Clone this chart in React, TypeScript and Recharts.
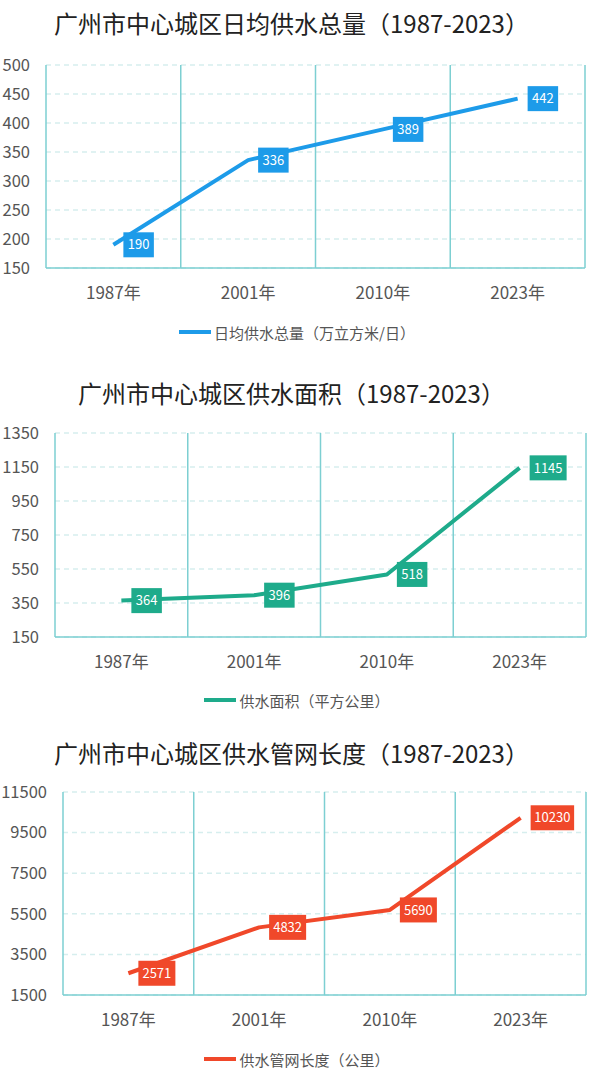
import React from 'react';
import { LineChart, Line, XAxis, YAxis, CartesianGrid, LabelList } from 'recharts';

const years = ['1987年', '2001年', '2010年', '2023年'];
const dailySupply = [190, 336, 389, 442];
const supplyArea = [364, 396, 518, 1145];
const pipeLength = [2571, 4832, 5690, 10230];

const dailyTicks = [150, 200, 250, 300, 350, 400, 450, 500];
const areaTicks = [150, 350, 550, 750, 950, 1150, 1350];
const pipeTicks = [1500, 3500, 5500, 7500, 9500, 11500];

const CHART_W = 591;
const CHART_H = 330;
const X_AXIS_H = 30;
const FONT = '"Noto Sans CJK SC", "Noto Sans", sans-serif';
const GRID_LINE = '#7dcfd2';
const GRID_DASH = '#d6eeee';

interface PanelProps {
  title: string;
  legend: string;
  values: number[];
  ticks: number[];
  color: string;
  top: number;
  titleY: number;
  legendY: number;
  marginTop: number;
  marginBottom: number;
  marginRight: number;
  yWidth: number;
}

const makeValueBox = (color: string) => (props: any) => {
  const x = props.x ?? props.viewBox?.x;
  const y = props.y ?? props.viewBox?.y;
  const text = String(props.value);
  const w = text.length * 6.5 + 11;
  return (
    <g>
      <rect x={x + 10} y={y - 12.5} width={w} height={25} fill={color} />
      <text x={x + 10 + w / 2} y={y} dy="0.36em" textAnchor="middle" fill="#ffffff" fontSize={13}>
        {text}
      </text>
    </g>
  );
};

const Panel = (p: PanelProps) => {
  const data = years.map((year, i) => ({ year, value: p.values[i] }));
  const plotW = CHART_W - p.yWidth - p.marginRight;
  const half = plotW / years.length / 2;

  return (
    <>
      <div
        style={{
          position: 'absolute', left: 0, width: 583, top: p.titleY - 17, height: 34,
          lineHeight: '34px', textAlign: 'center', fontSize: 24, color: '#222',
        }}
      >
        {p.title}
      </div>
      <div style={{ position: 'absolute', left: 0, top: p.top }}>
        <LineChart
          width={CHART_W}
          height={CHART_H}
          data={data}
          margin={{ top: p.marginTop, right: p.marginRight, bottom: p.marginBottom - X_AXIS_H, left: 0 }}
        >
          <CartesianGrid vertical={false} stroke={GRID_DASH} strokeDasharray="5 4" strokeWidth={1.5} />
          <CartesianGrid
            horizontal={false}
            stroke={GRID_LINE}
            strokeWidth={1.5}
            verticalCoordinatesGenerator={({ offset }: any) =>
              [1, 2, 3, 4].map((k) => offset.left + (offset.width * k) / 4)
            }
          />
          <XAxis
            dataKey="year"
            height={X_AXIS_H}
            padding={{ left: half, right: half }}
            axisLine={{ stroke: GRID_LINE, strokeWidth: 1.5 }}
            tickLine={false}
            tickSize={0}
            tickMargin={19}
            tick={{ fill: '#555', fontSize: 17 }}
          />
          <YAxis
            width={p.yWidth}
            domain={[p.ticks[0], p.ticks[p.ticks.length - 1]]}
            ticks={p.ticks}
            interval={0}
            axisLine={{ stroke: GRID_LINE, strokeWidth: 1.5 }}
            tickLine={false}
            tickSize={0}
            tickMargin={16}
            tick={{ fill: '#555', fontSize: 16.5 }}
          />
          <Line
            type="linear"
            dataKey="value"
            stroke={p.color}
            strokeWidth={4}
            dot={false}
            activeDot={false}
            strokeLinejoin="round"
            isAnimationActive={false}
          >
            <LabelList dataKey="value" content={makeValueBox(p.color)} />
          </Line>
        </LineChart>
      </div>
      <div
        style={{
          position: 'absolute', left: 0, width: 594, top: p.legendY - 12, height: 24,
          display: 'flex', justifyContent: 'center', alignItems: 'center',
          fontSize: 15, color: '#555',
        }}
      >
        <span style={{ display: 'inline-block', width: 32, height: 4, background: p.color, marginRight: 3 }} />
        <span>{p.legend}</span>
      </div>
    </>
  );
};

export default function App() {
  return (
    <div
      style={{
        position: 'absolute', left: 0, top: 0, width: 591, height: 1080,
        background: '#ffffff', fontFamily: FONT, overflow: 'hidden',
      }}
    >
      <Panel
        title="广州市中心城区日均供水总量（1987-2023）"
        legend="日均供水总量（万立方米/日）"
        values={dailySupply}
        ticks={dailyTicks}
        color="#1d9be9"
        top={0}
        titleY={23}
        legendY={332}
        marginTop={65}
        marginBottom={62}
        marginRight={6}
        yWidth={46}
      />
      <Panel
        title="广州市中心城区供水面积（1987-2023）"
        legend="供水面积（平方公里）"
        values={supplyArea}
        ticks={areaTicks}
        color="#1eab8b"
        top={360}
        titleY={393}
        legendY={700}
        marginTop={73}
        marginBottom={53}
        marginRight={5}
        yWidth={55}
      />
      <Panel
        title="广州市中心城区供水管网长度（1987-2023）"
        legend="供水管网长度（公里）"
        values={pipeLength}
        ticks={pipeTicks}
        color="#f0482a"
        top={720}
        titleY={753}
        legendY={1059}
        marginTop={72}
        marginBottom={55}
        marginRight={5}
        yWidth={63}
      />
    </div>
  );
}
